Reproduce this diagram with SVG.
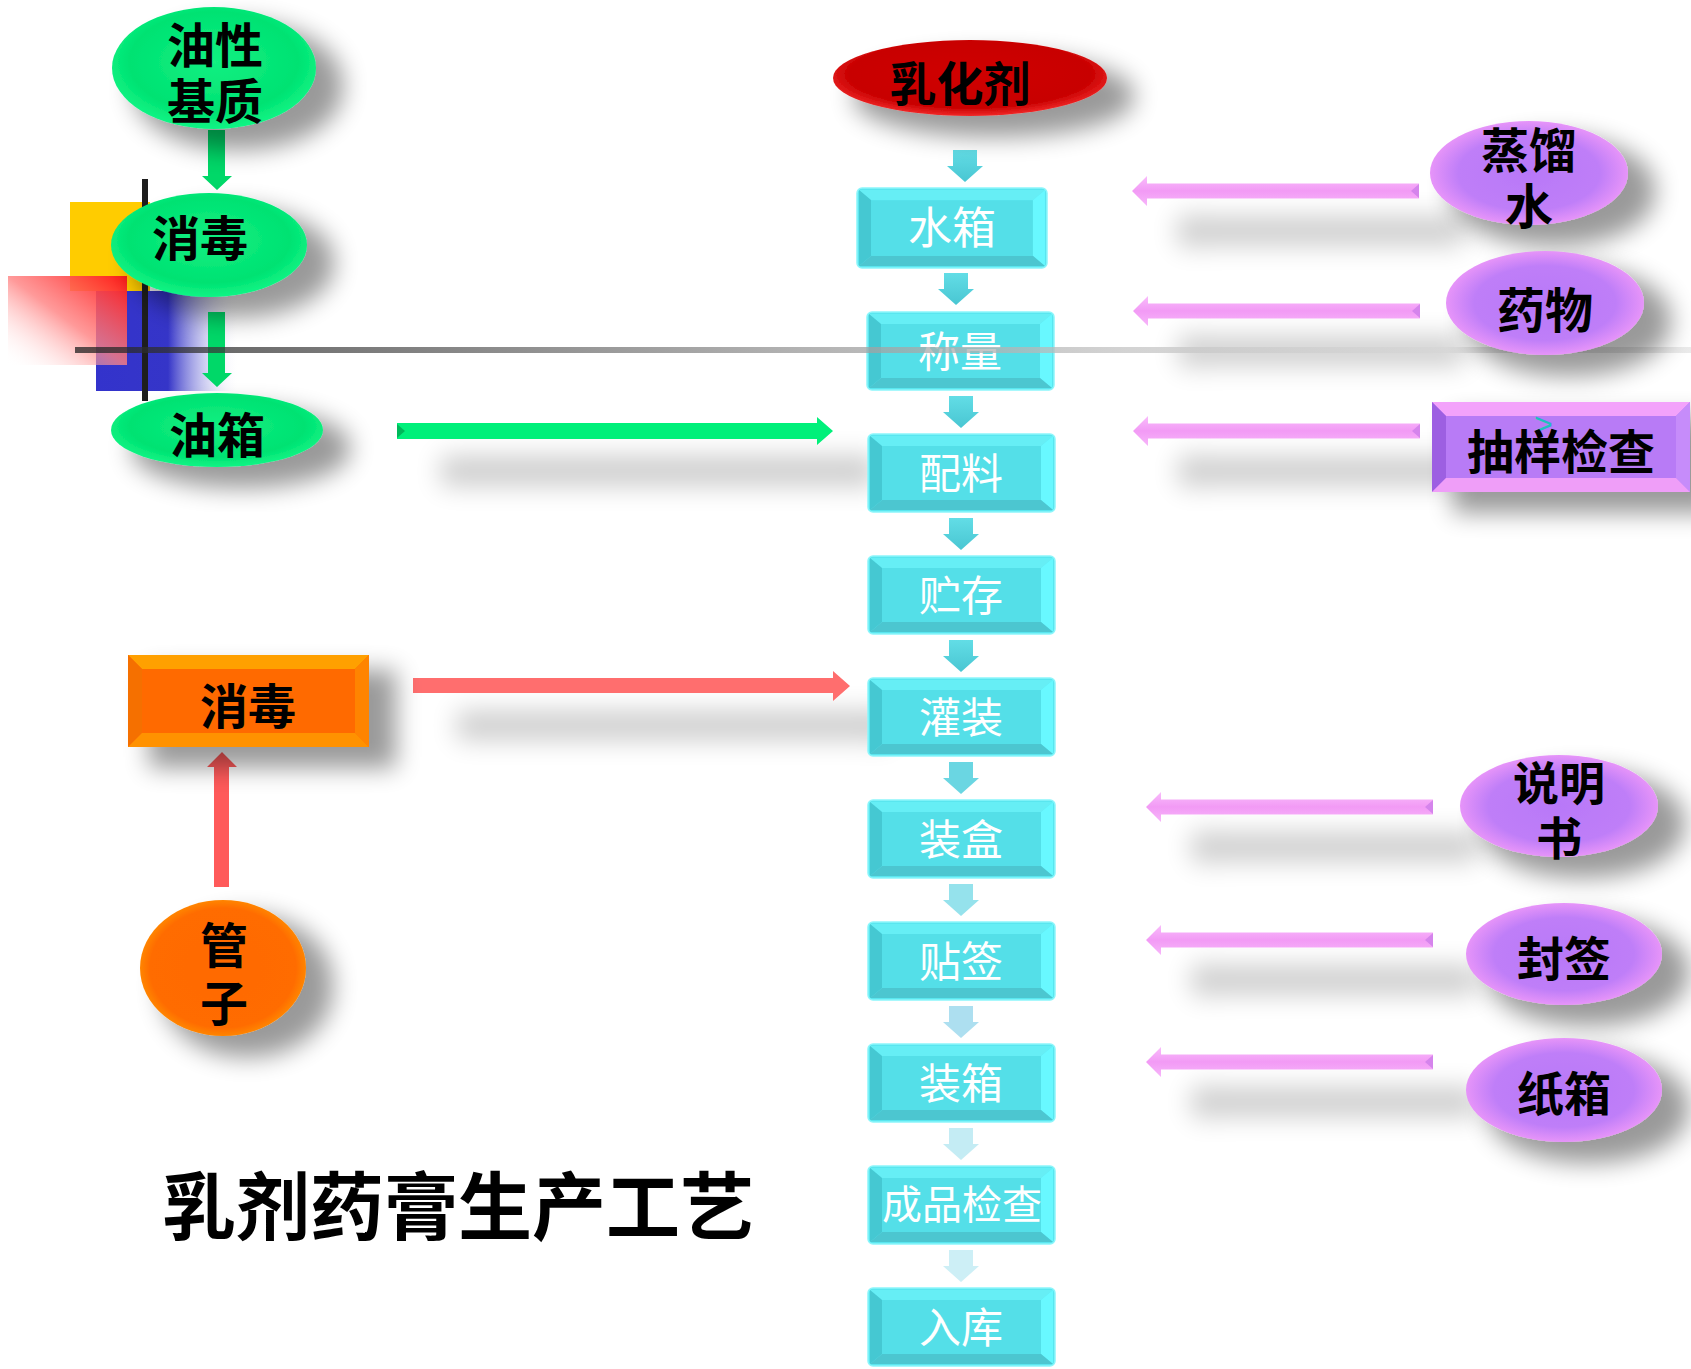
<svg xmlns="http://www.w3.org/2000/svg" xmlns:xlink="http://www.w3.org/1999/xlink" width="1691" height="1369" viewBox="0 0 1691 1369">
<style>
.lb{font-family:"Noto Sans CJK SC","Noto Sans CJK JP",sans-serif;font-weight:700;fill:#000;text-anchor:middle}
.wt{font-family:"Noto Sans CJK SC","Noto Sans CJK JP",sans-serif;font-weight:400;fill:#fff;text-anchor:middle}
</style>
<defs>
<filter id="sh" x="-40%" y="-40%" width="200%" height="200%">
<feMorphology in="SourceAlpha" operator="dilate" radius="3"/>
<feGaussianBlur stdDeviation="12"/>
<feOffset dx="24" dy="18"/>
<feComponentTransfer><feFuncA type="linear" slope="0.4"/></feComponentTransfer>
<feMerge><feMergeNode/><feMergeNode in="SourceGraphic"/></feMerge>
</filter>
<filter id="ash" x="-15%" y="-200%" width="140%" height="800%">
<feMorphology in="SourceAlpha" operator="dilate" radius="0 7"/>
<feGaussianBlur stdDeviation="13"/>
<feOffset dx="44" dy="40"/>
<feComponentTransfer><feFuncA type="linear" slope="0.2"/></feComponentTransfer>
<feMerge><feMergeNode/><feMergeNode in="SourceGraphic"/></feMerge>
</filter>
<radialGradient id="gGreen" cx="50%" cy="45%" r="55%">
<stop offset="0" stop-color="#12f082"/><stop offset="0.75" stop-color="#00e272"/><stop offset="1" stop-color="#10f585"/>
</radialGradient>
<radialGradient id="gPurple" cx="50%" cy="50%" r="55%">
<stop offset="0" stop-color="#b878f8"/><stop offset="0.65" stop-color="#bf7ef8"/><stop offset="1" stop-color="#f49cf9"/>
</radialGradient>
<radialGradient id="gRed" cx="50%" cy="45%" r="55%">
<stop offset="0" stop-color="#d00000"/><stop offset="0.8" stop-color="#c80000"/><stop offset="1" stop-color="#f02828"/>
</radialGradient>
<radialGradient id="gOrange" cx="50%" cy="50%" r="55%">
<stop offset="0" stop-color="#ff6a00"/><stop offset="0.8" stop-color="#ff6c00"/><stop offset="1" stop-color="#ff9a00"/>
</radialGradient>
<linearGradient id="gPink" x1="0" y1="0" x2="0" y2="1">
<stop offset="0" stop-color="#f9bcfb"/><stop offset="0.5" stop-color="#f29af5"/><stop offset="1" stop-color="#f7b6fa"/>
</linearGradient>
<linearGradient id="gRedRect" x1="1" y1="0" x2="0" y2="1">
<stop offset="0" stop-color="#ff1a1a"/><stop offset="0.5" stop-color="#ff8080" stop-opacity="0.8"/><stop offset="1" stop-color="#ffffff" stop-opacity="0"/>
</linearGradient>
<linearGradient id="gBlue" gradientUnits="userSpaceOnUse" x1="96" y1="0" x2="240" y2="0">
<stop offset="0" stop-color="#3333cc"/><stop offset="0.5" stop-color="#3535c8"/><stop offset="1" stop-color="#ffffff" stop-opacity="0"/>
</linearGradient>
<linearGradient id="gLine" gradientUnits="userSpaceOnUse" x1="75" y1="0" x2="1691" y2="0">
<stop offset="0" stop-color="#222"/><stop offset="0.2" stop-color="#555"/><stop offset="0.45" stop-color="#999"/><stop offset="0.65" stop-color="#c4c4c4"/><stop offset="1" stop-color="#e4e4e4"/>
</linearGradient>
<linearGradient id="gCyanArrow" x1="0" y1="0" x2="0" y2="1">
<stop offset="0" stop-color="#62dde6"/><stop offset="1" stop-color="#49c6d2"/>
</linearGradient>
<g id="cbox">
<rect x="0" y="0" width="187" height="78" rx="5" fill="#5ae6ef" stroke="#8cf6fb" stroke-width="1.5"/>
<polygon points="2,2 185,2 173,12 14,12" fill="#66eef5"/>
<polygon points="2,2 14,12 14,66 2,76" fill="#45c8d2"/>
<polygon points="185,2 185,76 173,66 173,12" fill="#68f8ff"/>
<polygon points="2,76 14,66 173,66 185,76" fill="#4cc6d0"/>
<rect x="14" y="12" width="159" height="54" fill="#54dfe8"/>
</g>
<path id="cyanArrow" d="M-12,0 H12 V16 H18 L0,32 L-18,16 H-12 Z"/>
<g id="pinkArrow">
<path d="M0,0 L15,-15 L15,-7.5 L287,-7.5 L287,7.5 L15,7.5 L15,15 Z" fill="url(#gPink)"/>
<polygon points="279,0 287,-7 287,7" fill="#d584ec"/>
</g>
</defs>

<rect width="1691" height="1369" fill="#ffffff"/>

<g id="decor">
<rect x="70" y="202" width="80" height="89" fill="#ffcc00"/>
<rect x="96" y="291" width="144" height="100" fill="url(#gBlue)"/>
<rect x="8" y="276" width="119" height="89" fill="url(#gRedRect)"/>
<rect x="142" y="179" width="6" height="222" fill="#1e1e1e"/>
</g>

<g id="connectors">
<path d="M208,130 H225 V176 H232 L217,190 L202,176 H208 Z" fill="#00d868"/>
<path d="M208,312 H225 V373 H232 L217,387 L202,373 H208 Z" fill="#00d868"/>
<path d="M214,887 V767 H207 L222,752 L237,767 H229 V887 Z" fill="#ff5a5a"/>
<g filter="url(#ash)">
<path d="M397,423 H817 V417 L833,431 L817,445 V439 H397 Z" fill="#00f07a"/>
</g>
<polygon points="397,424 405,431 397,438" fill="#00b85a"/>
<g filter="url(#ash)">
<path d="M413,678 H833 V671 L850,686 L833,701 V693 H413 Z" fill="#ff6e6e"/>
</g>
<g filter="url(#ash)"><use href="#pinkArrow" transform="translate(1132,191)"/></g>
<g filter="url(#ash)"><use href="#pinkArrow" transform="translate(1133,311)"/></g>
<g filter="url(#ash)"><use href="#pinkArrow" transform="translate(1133,431)"/></g>
<g filter="url(#ash)"><use href="#pinkArrow" transform="translate(1146,807)"/></g>
<g filter="url(#ash)"><use href="#pinkArrow" transform="translate(1146,940)"/></g>
<g filter="url(#ash)"><use href="#pinkArrow" transform="translate(1146,1062)"/></g>
<use href="#cyanArrow" transform="translate(965,150)" fill="url(#gCyanArrow)"/>
<use href="#cyanArrow" transform="translate(956,273)" fill="url(#gCyanArrow)"/>
<use href="#cyanArrow" transform="translate(961,396)" fill="url(#gCyanArrow)"/>
<use href="#cyanArrow" transform="translate(961,518)" fill="url(#gCyanArrow)"/>
<use href="#cyanArrow" transform="translate(961,640)" fill="url(#gCyanArrow)"/>
<use href="#cyanArrow" transform="translate(961,762)" fill="#6ad6e2"/>
<use href="#cyanArrow" transform="translate(961,884)" fill="#95e2ec"/>
<use href="#cyanArrow" transform="translate(961,1006)" fill="#addff0"/>
<use href="#cyanArrow" transform="translate(961,1128)" fill="#c4ecf4"/>
<use href="#cyanArrow" transform="translate(961,1250)" fill="#cdeff6"/>
</g>

<g id="n_water_tank"><use href="#cbox" transform="translate(857,188) scale(1.016,1.026)"/><text class="wt" x="952" y="244" font-size="44">水箱</text></g>
<g id="n_weigh"><use href="#cbox" transform="translate(867,312)"/><text class="wt" x="960" y="367" font-size="42">称量</text></g>
<g id="n_mix"><use href="#cbox" transform="translate(868,434)"/><text class="wt" x="961" y="489" font-size="42">配料</text></g>
<g id="n_store"><use href="#cbox" transform="translate(868,556)"/><text class="wt" x="961" y="611" font-size="42">贮存</text></g>
<g id="n_fill"><use href="#cbox" transform="translate(868,678)"/><text class="wt" x="961" y="733" font-size="42">灌装</text></g>
<g id="n_boxing"><use href="#cbox" transform="translate(868,800)"/><text class="wt" x="961" y="855" font-size="42">装盒</text></g>
<g id="n_label"><use href="#cbox" transform="translate(868,922)"/><text class="wt" x="961" y="977" font-size="42">贴签</text></g>
<g id="n_carton_pack"><use href="#cbox" transform="translate(868,1044)"/><text class="wt" x="961" y="1099" font-size="42">装箱</text></g>
<g id="n_final_check"><use href="#cbox" transform="translate(868,1166)"/><text class="wt" x="962" y="1219" font-size="40">成品检查</text></g>
<g id="n_warehouse"><use href="#cbox" transform="translate(868,1288)"/><text class="wt" x="961" y="1343" font-size="42">入库</text></g>

<rect id="hline" x="75" y="347" width="1616" height="6" fill="url(#gLine)" opacity="0.75"/>

<g id="n_emulsifier"><ellipse cx="970" cy="78" rx="137" ry="38" fill="url(#gRed)" filter="url(#sh)"/><text class="lb" x="960" y="101" font-size="47">乳化剂</text></g>
<g id="n_distilled_water"><ellipse cx="1529" cy="173" rx="99" ry="52" fill="url(#gPurple)" filter="url(#sh)"/><text class="lb" font-size="48"><tspan x="1529" y="168">蒸馏</tspan><tspan x="1529" y="224">水</tspan></text></g>
<g id="n_drug"><ellipse cx="1545" cy="303" rx="99" ry="52" fill="url(#gPurple)" filter="url(#sh)"/><text class="lb" x="1545" y="328" font-size="48">药物</text></g>
<g id="n_sampling">
<g filter="url(#sh)">
<rect x="1432" y="402" width="258" height="90" fill="#b87bf6"/>
</g>
<polygon points="1432,402 1690,402 1676,416 1446,416" fill="#f3a2fb"/>
<polygon points="1432,402 1446,416 1446,478 1432,492" fill="#9d5fe2"/>
<polygon points="1690,402 1690,492 1676,478 1676,416" fill="#c68cfa"/>
<polygon points="1432,492 1446,478 1676,478 1690,492" fill="#ef9ef8"/>
<rect x="1446" y="416" width="230" height="62" fill="#b87bf6"/>
<text x="1534" y="435" font-size="32" font-family="Liberation Sans, sans-serif" fill="#1fbfbf">&gt;</text>
<text class="lb" x="1561" y="469" font-size="47">抽样检查</text>
</g>
<g id="n_manual"><ellipse cx="1559" cy="806" rx="99" ry="51" fill="url(#gPurple)" filter="url(#sh)"/><text class="lb" font-size="46"><tspan x="1559" y="800">说明</tspan><tspan x="1559" y="855">书</tspan></text></g>
<g id="n_seal"><ellipse cx="1564" cy="954" rx="98" ry="51" fill="url(#gPurple)" filter="url(#sh)"/><text class="lb" x="1564" y="976" font-size="47">封签</text></g>
<g id="n_carton"><ellipse cx="1564" cy="1090" rx="98" ry="52" fill="url(#gPurple)" filter="url(#sh)"/><text class="lb" x="1564" y="1111" font-size="47">纸箱</text></g>

<g id="n_oil_base"><ellipse cx="214" cy="68" rx="102" ry="61" fill="url(#gGreen)" filter="url(#sh)"/><text class="lb" font-size="48"><tspan x="215" y="63">油性</tspan><tspan x="215" y="119">基质</tspan></text></g>
<g id="n_disinfect_oil"><ellipse cx="209" cy="245" rx="98" ry="52" fill="url(#gGreen)" filter="url(#sh)"/><text class="lb" x="200" y="256" font-size="48">消毒</text></g>
<g id="n_oil_tank"><ellipse cx="217" cy="430" rx="106" ry="37" fill="url(#gGreen)" filter="url(#sh)"/><text class="lb" x="217" y="453" font-size="48">油箱</text></g>
<g id="n_disinfect_tube">
<g filter="url(#sh)"><rect x="128" y="655" width="241" height="92" fill="#ff6a00"/></g>
<polygon points="128,655 369,655 355,669 142,669" fill="#ffa000"/>
<polygon points="128,655 142,669 142,733 128,747" fill="#f57000"/>
<polygon points="369,655 369,747 355,733 355,669" fill="#ff8400"/>
<polygon points="128,747 142,733 355,733 369,747" fill="#ff9200"/>
<rect x="142" y="669" width="213" height="64" fill="#ff6a00"/>
<text class="lb" x="248" y="724" font-size="48">消毒</text>
</g>
<g id="n_tube"><ellipse cx="223" cy="968" rx="83" ry="68" fill="url(#gOrange)" filter="url(#sh)"/><text class="lb" font-size="48"><tspan x="224" y="963">管</tspan><tspan x="224" y="1021">子</tspan></text></g>

<g id="title"><text class="lb" x="458" y="1234" font-size="74">乳剂药膏生产工艺</text></g>
</svg>
